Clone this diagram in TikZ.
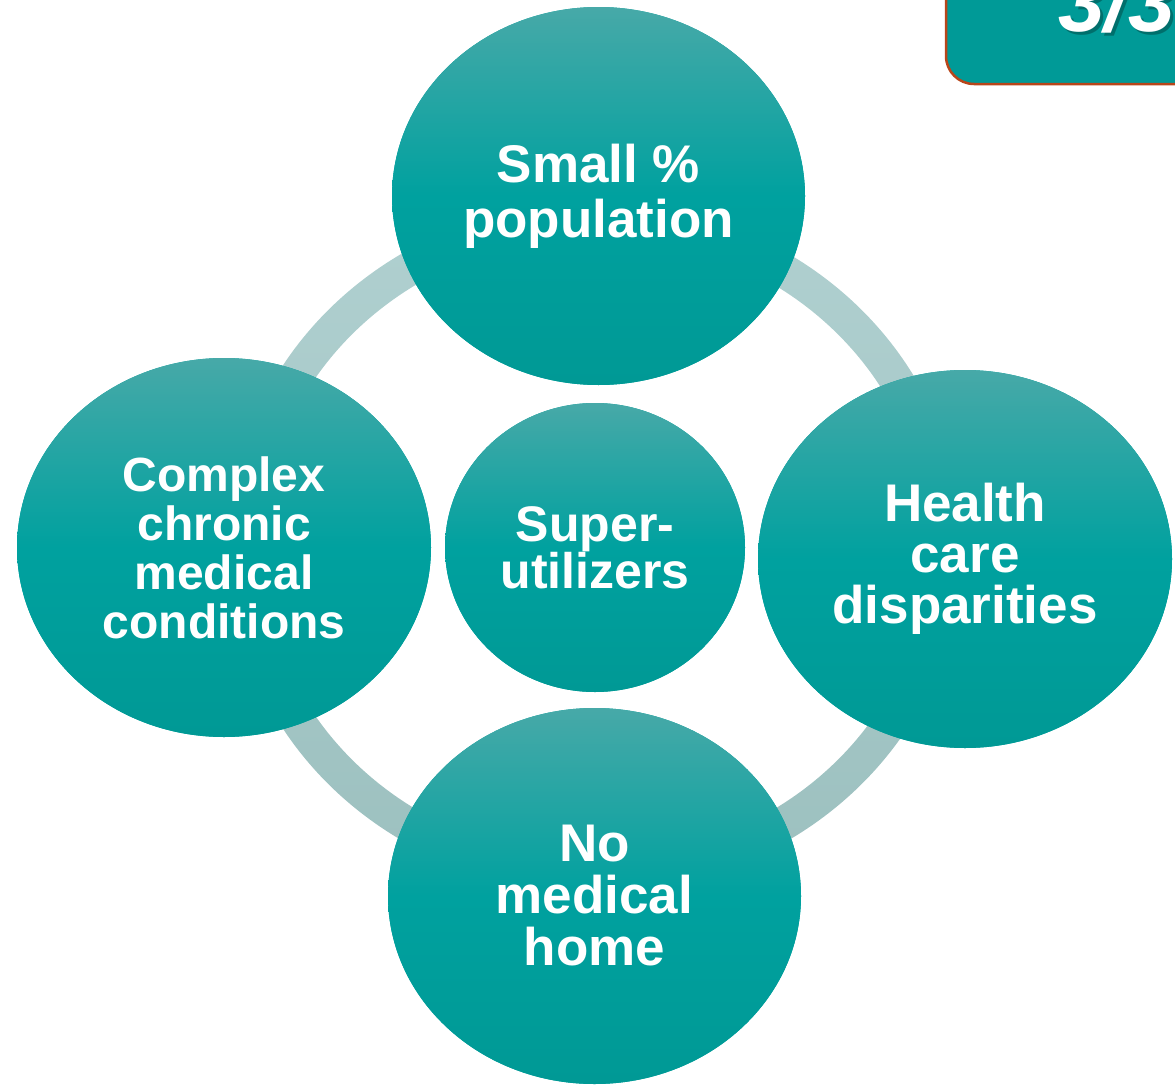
\documentclass[tikz,border=0pt]{standalone}
\usepackage{fontspec}
\setmainfont{Liberation Sans}
\usetikzlibrary{shapes.geometric}
\definecolor{ctop}{HTML}{47A9A8}
\definecolor{cmid}{HTML}{00A19F}
\definecolor{cbot}{HTML}{009995}
\definecolor{ringtop}{HTML}{B0D0D0}
\definecolor{ringbot}{HTML}{9CC0BF}
\definecolor{boxfill}{HTML}{009A97}
\definecolor{boxedge}{HTML}{B8461A}
\definecolor{shadowcol}{HTML}{006F6C}
\tikzset{
  bubble/.style={ellipse, inner sep=0pt, preaction={fill=cmid},
    top color=ctop, bottom color=cbot, middle color=cmid,
    text=white, align=center},
  fs/.style 2 args={font=\fontsize{#1}{#2}\selectfont\bfseries},
  numtext/.style={anchor=base west, inner sep=0pt, font=\fontsize{84}{84}\selectfont\bfseries\itshape},
}
\begin{document}
\begin{tikzpicture}[x=1pt,y=-1pt]
\useasboundingbox (0,0) rectangle (1175,1084);
\clip (0,0) rectangle (1175,1084);
% ring
\shade[even odd rule, top color=ringtop, bottom color=ringbot]
  (595,547) ellipse [x radius=367pt, y radius=345pt]
  (595,547) ellipse [x radius=333pt, y radius=311pt];
% corner box
\draw[fill=boxfill, draw=boxedge, line width=2.5pt, rounded corners=28pt]
  (946,-40) rectangle (1220,84);
\node[numtext, text=shadowcol] (numsh) at (1061,34) {3/3};
\node[numtext, text=white] (num) at (1058,31) {3/3};
% bubbles
\node[bubble, minimum width=413pt, minimum height=378pt, fs={53}{55}] (top) at (598.5,196) {Small \%\\population};
\node[bubble, minimum width=414pt, minimum height=379pt, fs={48}{49}] (left) at (224,547.5) {Complex\\chronic\\medical\\conditions};
\node[bubble, minimum width=414pt, minimum height=378pt, fs={53}{51}] (right) at (965,559) {Health\\care\\disparities};
\node[bubble, minimum width=413pt, minimum height=376pt, fs={53}{52}] (bottom) at (594.5,896) {No\\medical\\home};
\node[bubble, minimum width=300pt, minimum height=289pt, fs={50}{47}] (center) at (595,547.5) {Super-\\utilizers};
\end{tikzpicture}
\end{document}
